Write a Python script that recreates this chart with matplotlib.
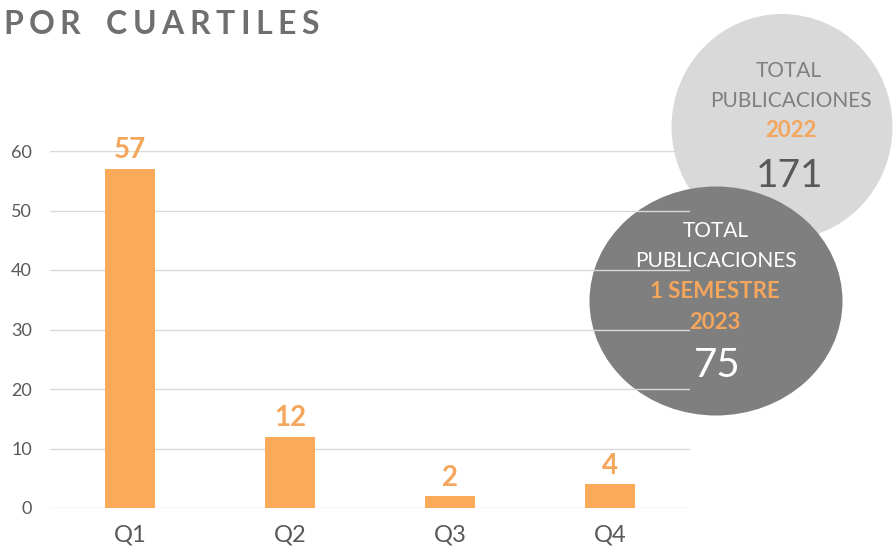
import matplotlib
matplotlib.use("Agg")
import matplotlib.pyplot as plt
from matplotlib.patches import Ellipse

plt.rcParams['font.family'] = ['Lato', 'DejaVu Sans']

# data
cuartiles = ['Q1', 'Q2', 'Q3', 'Q4']
publicaciones = [57, 12, 2, 4]
yticks = [0, 10, 20, 30, 40, 50, 60]
total_2022 = 171
total_2023_s1 = 75

BAR = '#fbaa59'
ORANGE = '#f4a65c'
GRID = '#d9d9d9'
W, H = 896, 549


def fx(px):
    return px / W


def fy(py):
    return 1 - py / H


fig = plt.figure(figsize=(W / 100, H / 100), dpi=100)
fig.patch.set_facecolor('white')

# background bubbles (drawn under the chart axes)
fig.patches.append(Ellipse((fx(782), fy(127)), 221 / W, 226 / H, transform=fig.transFigure,
                           facecolor='#d9d9d9', edgecolor='none', zorder=-2))
fig.patches.append(Ellipse((fx(716), fy(301)), 253 / W, 229 / H, transform=fig.transFigure,
                           facecolor='#7f7f7f', edgecolor='none', zorder=-1))

ax = fig.add_axes([fx(50), 1 - 508 / H, 640 / W, (508 - 151) / H])
ax.patch.set_facecolor('none')
bars = ax.bar(range(len(cuartiles)), publicaciones, width=0.31, color=BAR, zorder=2)
ax.bar_label(bars, labels=[str(v) for v in publicaciones], padding=4,
             fontsize=20, fontweight='bold', color=ORANGE)

ax.set_xlim(-0.5, 3.5)
ax.set_ylim(0, 60)
ax.set_yticks(yticks)
ax.set_xticks(range(len(cuartiles)))
ax.set_xticklabels(cuartiles)
ax.yaxis.grid(True, color=GRID, lw=1)
ax.set_axisbelow(True)
for s in ax.spines.values():
    s.set_visible(False)
ax.tick_params(axis='y', length=0, pad=13, labelsize=13, labelcolor='#595959')
ax.tick_params(axis='x', length=0, pad=12, labelsize=17, labelcolor='#595959')

# title with wide letter spacing
renderer = fig.canvas.get_renderer()
x = 3
for ch in 'POR CUARTILES':
    if ch == ' ':
        x += 20
        continue
    t = fig.text(fx(x), fy(34), ch, fontsize=23, fontweight='bold', color='#6f6f6f',
                 va='baseline', ha='left')
    bb = t.get_window_extent(renderer)
    x = bb.x1 + 5.5

# text inside the 2022 bubble
fig.text(fx(789), fy(77), 'TOTAL', ha='center', va='baseline', fontsize=15, color='#7f7f7f')
fig.text(fx(791), fy(107), 'PUBLICACIONES', ha='center', va='baseline', fontsize=15, color='#7f7f7f')
fig.text(fx(791), fy(137), '2022', ha='center', va='baseline', fontsize=16, fontweight='bold', color=ORANGE)
fig.text(fx(790), fy(187), str(total_2022), ha='center', va='baseline', fontsize=28, color='#595959')

# text inside the first-semester 2023 bubble
fig.text(fx(716), fy(237), 'TOTAL', ha='center', va='baseline', fontsize=15, color='white')
fig.text(fx(716), fy(267), 'PUBLICACIONES', ha='center', va='baseline', fontsize=15, color='white')
fig.text(fx(715), fy(298), '1 SEMESTRE', ha='center', va='baseline', fontsize=16, fontweight='bold', color=ORANGE)
fig.text(fx(715), fy(329), '2023', ha='center', va='baseline', fontsize=16, fontweight='bold', color=ORANGE)
fig.text(fx(717), fy(377), str(total_2023_s1), ha='center', va='baseline', fontsize=29, color='white')

fig.savefig('out.png', dpi=100)
